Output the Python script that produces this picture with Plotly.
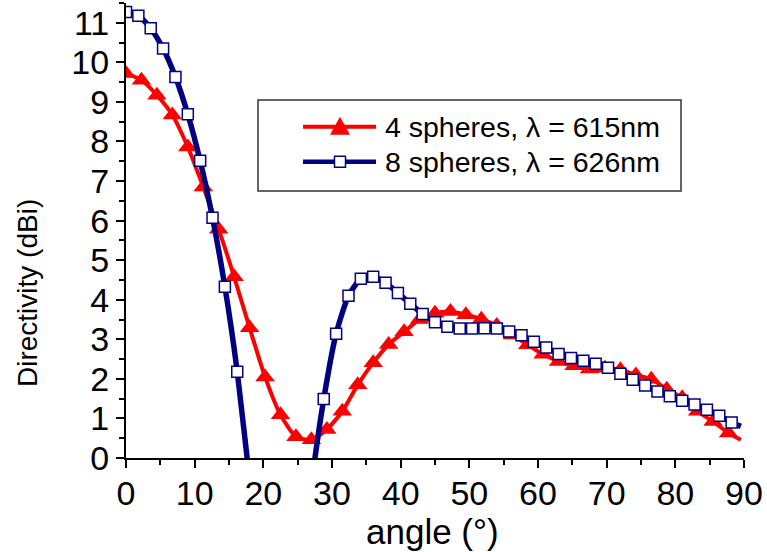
import plotly.graph_objects as go

# ---------------- data ----------------
red_angle = [0, 2.25, 4.5, 6.75, 9, 11.25, 13.5, 15.75, 18, 20.25,
             22.5, 24.75, 27, 29.25, 31.5, 33.75, 36, 38.25, 40.5, 42.75,
             45, 47.25, 49.5, 51.75, 54, 56.25, 58.5, 60.75, 63, 65.25,
             67.5, 69.75, 72, 74.25, 76.5, 78.75, 81, 83.25, 85.5, 87.75,
             89.55]
red_dir = [9.72, 9.55, 9.17, 8.67, 7.86, 6.85, 5.78, 4.58, 3.29, 2.05,
           1.09, 0.54, 0.46, 0.72, 1.18, 1.85, 2.41, 2.87, 3.19, 3.50,
           3.66, 3.70, 3.62, 3.51, 3.35, 3.11, 2.86, 2.62, 2.44, 2.33,
           2.25, 2.27, 2.23, 2.10, 1.99, 1.74, 1.52, 1.18, 0.92, 0.63,
           0.46]

blue_angle = [0, 1.8, 3.6, 5.4, 7.2, 9.0, 10.8, 12.6, 14.4, 16.2,
              18.0, 19.8, 21.6, 23.4, 25.2, 27.0, 28.8, 30.6, 32.4, 34.2,
              36.0, 37.8, 39.6, 41.4, 43.2, 45.0, 46.8, 48.6, 50.4, 52.2,
              54.0, 55.8, 57.6, 59.4, 61.2, 63.0, 64.8, 66.6, 68.4, 70.2,
              72.0, 73.8, 75.6, 77.4, 79.2, 81.0, 82.8, 84.6, 86.4, 88.2,
              89.55]
blue_dir = [11.27, 11.18, 10.86, 10.35, 9.63, 8.69, 7.51, 6.07, 4.33, 2.18,
            -0.55, -3.0, -5.5, -5.5, -3.2, -0.66, 1.49, 3.14, 4.10, 4.53,
            4.58, 4.43, 4.17, 3.90, 3.64, 3.43, 3.32, 3.27, 3.27, 3.28,
            3.27, 3.20, 3.10, 2.94, 2.79, 2.63, 2.53, 2.46, 2.38, 2.28,
            2.13, 1.98, 1.83, 1.68, 1.56, 1.45, 1.35, 1.22, 1.07, 0.90,
            0.80]

red_name = "4 spheres, \u03bb = 615nm"
blue_name = "8 spheres, \u03bb = 626nm"
x_title = "angle (\u00b0)"
y_title = "Directivity (dBi)"

RED = "#FF0000"
NAVY = "#000080"
FONT = "Liberation Sans, Arial, sans-serif"

# plot-area pixel geometry (for legend / title placement)
L, R, T, B = 126, 744, 3, 458
W, H = 767, 552


def X(px):
    return (px - L) / (R - L)


def Y(py):
    return (B - py) / (B - T)


red_sizes = [17] * (len(red_angle) - 1) + [0]
blue_sizes = [11] * (len(blue_angle) - 1) + [0]

fig = go.Figure()
fig.add_trace(go.Scatter(
    x=red_angle, y=red_dir, mode="lines+markers", name=red_name,
    line=dict(color=RED, width=4, shape="spline", smoothing=0.6),
    marker=dict(symbol="triangle-up", size=red_sizes, color=RED, opacity=1,
                line=dict(width=0)),
    showlegend=False, cliponaxis=True, hoverinfo="skip"))
fig.add_trace(go.Scatter(
    x=blue_angle, y=blue_dir, mode="lines+markers", name=blue_name,
    line=dict(color=NAVY, width=5.5, shape="spline", smoothing=0.6),
    marker=dict(symbol="square", size=blue_sizes, color="white", opacity=1,
                line=dict(color=NAVY, width=1.5)),
    showlegend=False, cliponaxis=True, hoverinfo="skip"))

axis_common = dict(showline=True, linecolor="black", linewidth=2,
                   ticks="outside", ticklen=8, tickwidth=2, tickcolor="black",
                   showgrid=False, zeroline=False, automargin=False,
                   tickfont=dict(family=FONT, size=34, color="black"))
fig.update_xaxes(range=[0, 90], tick0=0, dtick=10, ticklabelstandoff=-4,
                 minor=dict(dtick=5, ticks="outside", ticklen=5, tickwidth=2,
                            tickcolor="black"),
                 **axis_common)
fig.update_yaxes(range=[0, 11.5], tick0=0, dtick=1,
                 minor=dict(dtick=0.5, ticks="outside", ticklen=5, tickwidth=2,
                            tickcolor="black"),
                 **axis_common)

shapes = []
# legend box
shapes.append(dict(type="rect", xref="paper", yref="paper",
                   x0=X(258), x1=X(681), y0=Y(191), y1=Y(100),
                   line=dict(color="#333333", width=1.5), fillcolor="white",
                   layer="above"))
# legend samples
r1, r2 = 126.7, 161.7
shapes.append(dict(type="line", xref="paper", yref="paper",
                   x0=X(303), x1=X(376), y0=Y(r1), y1=Y(r1),
                   line=dict(color=RED, width=4), layer="above"))
shapes.append(dict(type="path", xref="paper", yref="paper",
                   path="M {},{} L {},{} L {},{} Z".format(
                       X(330), Y(r1 + 8), X(350), Y(r1 + 8), X(340), Y(r1 - 10)),
                   fillcolor=RED, line=dict(color=RED, width=0), layer="above"))
shapes.append(dict(type="line", xref="paper", yref="paper",
                   x0=X(303), x1=X(376), y0=Y(r2), y1=Y(r2),
                   line=dict(color=NAVY, width=4.5), layer="above"))
shapes.append(dict(type="rect", xref="paper", yref="paper",
                   x0=X(334.5), x1=X(345.5), y0=Y(r2 + 5.5), y1=Y(r2 - 5.5),
                   fillcolor="white", line=dict(color=NAVY, width=1.5),
                   layer="above"))

annotations = [
    dict(text=red_name, xref="paper", yref="paper", x=X(383), y=Y(r1),
         xanchor="left", yanchor="middle", showarrow=False,
         font=dict(family=FONT, size=28.5, color="black")),
    dict(text=blue_name, xref="paper", yref="paper", x=X(383), y=Y(r2),
         xanchor="left", yanchor="middle", showarrow=False,
         font=dict(family=FONT, size=28.5, color="black")),
    dict(text=x_title, xref="paper", yref="paper", x=X(432), y=Y(531),
         xanchor="center", yanchor="middle", showarrow=False,
         font=dict(family=FONT, size=35, color="black")),
    dict(text=y_title, xref="paper", yref="paper", x=X(27), y=Y(293),
         xanchor="center", yanchor="middle", showarrow=False, textangle=-90,
         font=dict(family=FONT, size=28, color="black")),
]

fig.update_layout(width=W, height=H, template="none",
                  margin=dict(l=L, r=W - R, t=T, b=H - B, pad=0),
                  plot_bgcolor="white", paper_bgcolor="white",
                  shapes=shapes, annotations=annotations,
                  showlegend=False, hovermode=False)

fig.write_html("out.html",
               config={"displayModeBar": False, "staticPlot": True},
               post_script="document.body.style.margin='0';"
                           "document.body.style.padding='0';"
                           "document.documentElement.style.overflow='hidden';")
